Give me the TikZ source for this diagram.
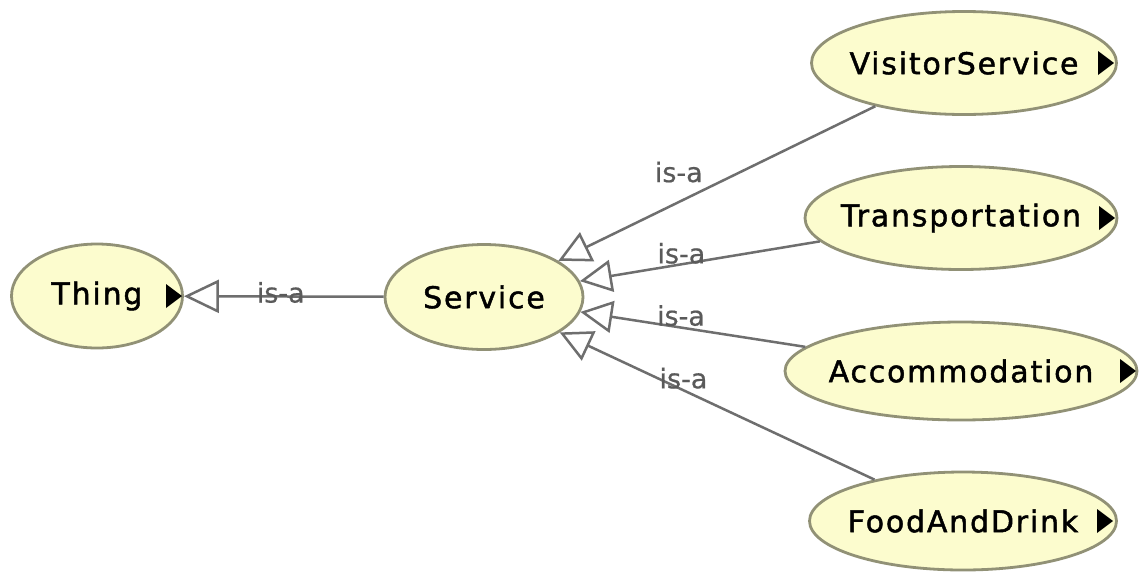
\documentclass[tikz,border=0pt]{standalone}
\usepackage{fontspec}
\usetikzlibrary{shapes.geometric,arrows.meta}
\newfontfamily\classfont[LetterSpace=6,FakeBold=1.5]{DejaVu Sans}
\newfontfamily\relfont[FakeBold=0.6]{DejaVu Sans}
\definecolor{classfill}{RGB}{252,252,206}
\definecolor{classborder}{RGB}{145,145,118}
\definecolor{edgegray}{RGB}{110,110,110}
\definecolor{labelgray}{RGB}{90,90,90}
% class names are centred in zero width so the ellipse keeps its given size
\newcommand\classtext[1]{\makebox[0pt][c]{#1}}
\tikzset{
  expander/.pic={\fill[black] (-8,-12) -- (8,0) -- (-8,12) -- cycle;}
}
\begin{document}
\begin{tikzpicture}[x=1pt,y=-1pt,
  cls/.style={ellipse, draw=classborder, fill=classfill, line width=2.8pt,
    inner sep=0pt, font=\classfont\fontsize{30}{36}\selectfont, text=black},
  isa/.style={draw=edgegray, line width=2.5pt,
    -{Triangle[length=32pt,width=32pt,fill=white]}},
  isabig/.style={isa, -{Triangle[length=35pt,width=33pt,fill=white]}},
  elabel/.style={font=\relfont\fontsize{27}{32}\selectfont, text=labelgray,
    inner sep=0pt}]
\fill[white] (0,0) rectangle (1139,571);
\useasboundingbox (0,0) rectangle (1139,571);

% classes
\node[cls, minimum width=171pt, minimum height=104pt] (thing) at (97,296) {\classtext{Thing}};
\node[cls, minimum width=198pt, minimum height=105pt] (svc) at (484,297) {\classtext{Service}};
\node[cls, minimum width=305pt, minimum height=103pt] (vis) at (964,63) {\classtext{VisitorService}};
\node[cls, minimum width=312pt, minimum height=103pt] (trn) at (961,218) {\classtext{Transportation}};
\node[cls, minimum width=352pt, minimum height=98pt] (acc) at (961,371) {\classtext{Accommodation}};
\node[cls, minimum width=307pt, minimum height=98pt] (fad) at (963,521) {\classtext{FoodAndDrink}};

% expand markers
\pic at (174,296) {expander};
\pic at (1106,63) {expander};
\pic at (1107,218) {expander};
\pic at (1128,371) {expander};
\pic at (1105,521) {expander};

% is-a relations
\draw[isabig] (svc) -- node[elabel, pos=0.515, yshift=4pt] {is-a} (thing);
\draw[isa] (vis) -- node[elabel, pos=0.62, yshift=30pt] {is-a} (svc);
\draw[isa] (trn) -- node[elabel, pos=0.577, yshift=11pt] {is-a} (svc);
\draw[isa] (acc) -- node[elabel, pos=0.553, yshift=12pt] {is-a} (svc);
\draw[isa] (fad) -- node[elabel, pos=0.607, yshift=12pt] {is-a} (svc);
\end{tikzpicture}
\end{document}
